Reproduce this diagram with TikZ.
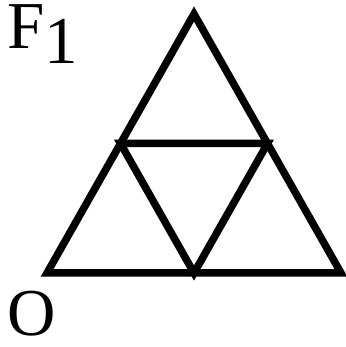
\documentclass[tikz,border=0pt]{standalone}
\usepackage{fontspec}
\setmainfont{Liberation Serif}
\usetikzlibrary{calc}
\begin{document}
\begin{tikzpicture}[x=1pt,y=1pt,
  edge/.style={line width=7.5pt,line join=miter,black},
  lbl/.style={inner sep=0pt,anchor=base west,font=\fontsize{67pt}{67pt}\selectfont}]
\useasboundingbox (0,0) rectangle (345,347);
\coordinate (A) at (47,74);
\coordinate (B) at (341,74);
\coordinate (C) at (194,333);
\coordinate (AB) at ($(A)!0.5!(B)$);
\coordinate (BC) at ($(B)!0.5!(C)$);
\coordinate (CA) at ($(C)!0.5!(A)$);
\draw[edge] (A) -- (B) -- (C) -- cycle;
\draw[edge] (AB) -- (BC) -- (CA) -- cycle;
\node[lbl] (f) at (7,298) {F\lower15pt\hbox{1}};
\node[lbl] (o) at (7,12) {O};
\end{tikzpicture}
\end{document}
